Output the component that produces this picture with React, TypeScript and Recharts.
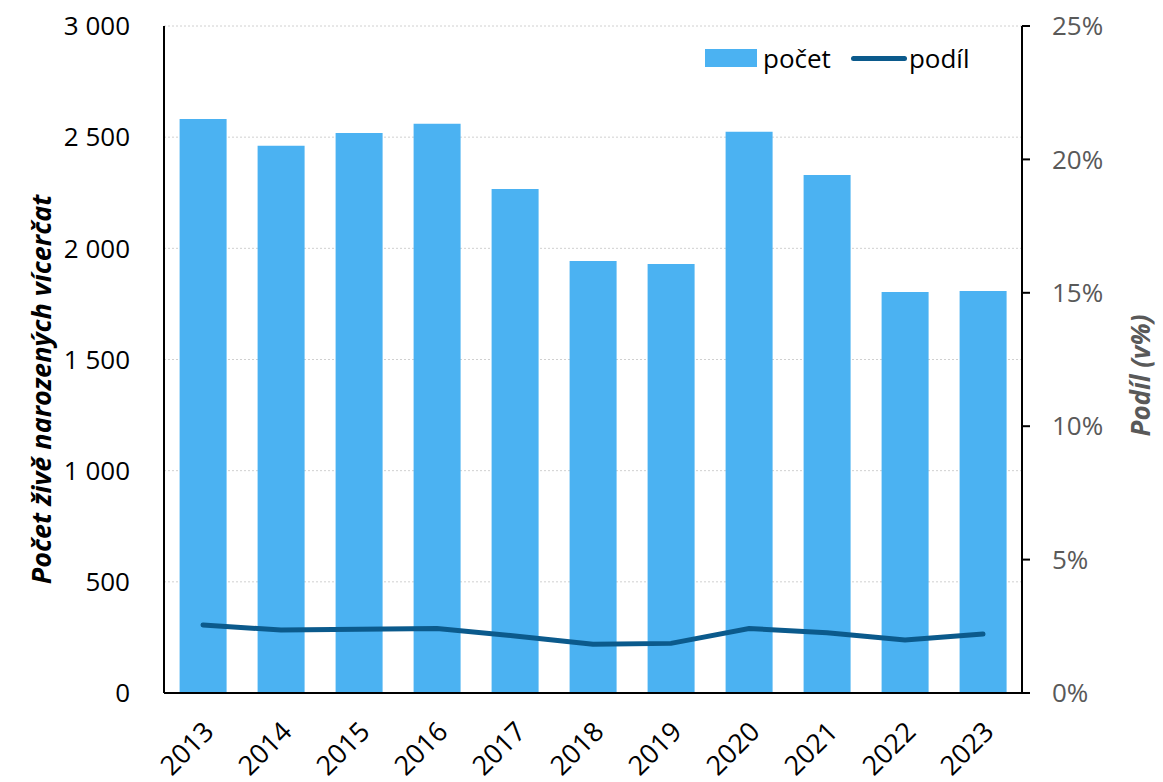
import {
  ComposedChart,
  Bar,
  Line,
  CartesianGrid,
  XAxis,
  YAxis,
  Legend,
} from "recharts";

const years = ["2013", "2014", "2015", "2016", "2017", "2018", "2019", "2020", "2021", "2022", "2023"];
const pocet = [2582, 2461, 2519, 2560, 2267, 1943, 1930, 2524, 2330, 1804, 1808];
const podil = [2.55, 2.36, 2.39, 2.42, 2.14, 1.83, 1.86, 2.42, 2.26, 1.99, 2.21];
const leftTicks = [0, 500, 1000, 1500, 2000, 2500, 3000];
const rightTicks = [0, 5, 10, 15, 20, 25];

const data = years.map((year, i) => ({ year, pocet: pocet[i], podil: podil[i] }));

const FONT = "'Open Sans', 'Noto Sans', sans-serif";
const BAR_COLOR = "#4BB2F2";
const LINE_COLOR = "#0B5A8C";

const formatThousands = (v: number) =>
  String(v).replace(/\B(?=(\d{3})+(?!\d))/g, " ");

const YearTick = (props: any) => {
  const { x, y, payload } = props;
  return (
    <g transform={`translate(${x + 6},${y + 26})`}>
      <text
        transform="rotate(-45)"
        textAnchor="end"
        fontFamily={FONT}
        fontSize={27}
        fill="#000"
        dy={9}
      >
        {payload.value}
      </text>
    </g>
  );
};

// rotated axis title, placed relative to the axis viewBox
const AxisTitle = (props: any) => {
  const { viewBox, text, dx, dy, color, fontSize } = props;
  const cx = viewBox.x + dx;
  const cy = viewBox.y + viewBox.height / 2 + dy;
  return (
    <text
      transform={`translate(${cx},${cy}) rotate(-90)`}
      textAnchor="middle"
      dominantBaseline="central"
      fontFamily={FONT}
      fontSize={fontSize}
      fontWeight="bold"
      fontStyle="italic"
      fill={color}
    >
      {text}
    </text>
  );
};

const renderLegend = () => (
  <div
    style={{
      display: "flex",
      alignItems: "center",
      fontFamily: FONT,
      fontSize: 26,
      color: "#000",
    }}
  >
    <span style={{ display: "inline-block", width: 52, height: 18, background: BAR_COLOR, marginRight: 6 }} />
    <span style={{ marginRight: 20 }}>počet</span>
    <span
      style={{
        display: "inline-block",
        width: 56,
        height: 5,
        borderRadius: 3,
        background: LINE_COLOR,
        marginRight: 2,
      }}
    />
    <span>podíl</span>
  </div>
);

export default function App() {
  return (
    <div style={{ position: "absolute", left: 0, top: 0, background: "#fff" }}>
      <ComposedChart
        width={1163}
        height={782}
        data={data}
        margin={{ top: 26, right: 0, bottom: 0, left: 0 }}
        barCategoryGap="20%"
      >
        <CartesianGrid
          vertical={false}
          stroke="#d0d0d0"
          strokeDasharray="2 2"
          yAxisId="left"
        />
        <XAxis
          dataKey="year"
          height={89}
          tickLine={false}
          axisLine={{ stroke: "#000", strokeWidth: 2 }}
          tick={<YearTick />}
          interval={0}
        />
        <YAxis
          yAxisId="left"
          orientation="left"
          width={164}
          domain={[0, 3000]}
          ticks={leftTicks}
          tickFormatter={formatThousands}
          tickLine={false}
          tickMargin={28}
          axisLine={{ stroke: "#000", strokeWidth: 2 }}
          tick={{ fontFamily: FONT, fontSize: 26, fill: "#000" }}
          label={
            <AxisTitle
              text="Počet živě narozených vícerčat"
              dx={40}
              dy={30}
              color="#000"
              fontSize={27}
            />
          }
        />
        <YAxis
          yAxisId="right"
          orientation="right"
          width={141}
          domain={[0, 25]}
          ticks={rightTicks}
          tickFormatter={(v: number) => `${v}%`}
          tickSize={8}
          tickMargin={22}
          tickLine={{ stroke: "#000", strokeWidth: 2 }}
          axisLine={{ stroke: "#000", strokeWidth: 2 }}
          tick={{ fontFamily: FONT, fontSize: 26, fill: "#595959", textAnchor: "start" }}
          label={
            <AxisTitle
              text="Podíl (v%)"
              dx={118}
              dy={16}
              color="#595959"
              fontSize={26}
            />
          }
        />
        <Legend
          layout="horizontal"
          verticalAlign="middle"
          align="center"
          content={renderLegend}
          wrapperStyle={{ top: 40, left: 705, width: 300 }}
        />
        <Bar
          yAxisId="left"
          dataKey="pocet"
          name="počet"
          fill={BAR_COLOR}
          isAnimationActive={false}
        />
        <Line
          yAxisId="right"
          type="linear"
          dataKey="podil"
          name="podíl"
          stroke={LINE_COLOR}
          strokeWidth={5}
          dot={false}
          strokeLinecap="round"
          isAnimationActive={false}
        />
      </ComposedChart>
    </div>
  );
}
